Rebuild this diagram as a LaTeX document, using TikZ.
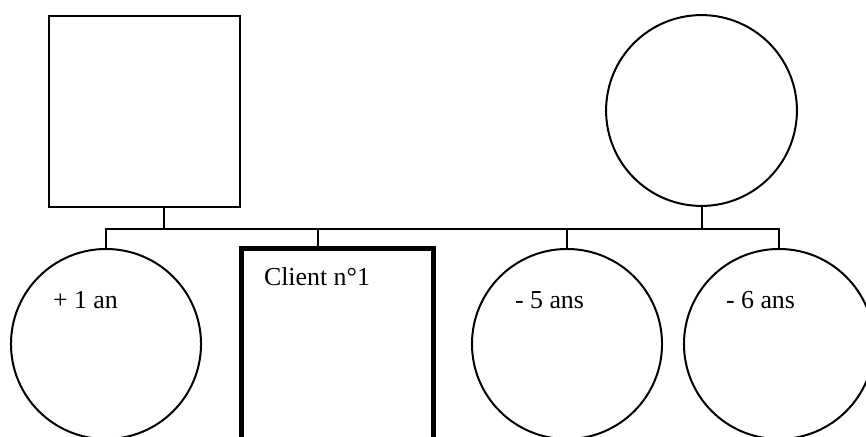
\documentclass[tikz,border=0pt]{standalone}
\usepackage{fontspec}
\setmainfont{Liberation Serif}
\usepackage{tikz}
\usetikzlibrary{shapes,positioning,calc}

\begin{document}
\begin{tikzpicture}[x=0.025cm, y=-0.025cm, line width=0.05cm,
    male/.style={draw, rectangle, minimum size=4.77cm},
    female/.style={draw, circle, minimum size=4.75cm, inner sep=0pt},
    patient/.style={draw, rectangle, line width=0.125cm, minimum width=4.81cm, minimum height=4.8cm},
    age/.style={anchor=base west, inner sep=0pt, font=\fontsize{18.4}{22}\selectfont}]
    \clip (0,0) rectangle (866,436);

    % Parents
    \node[male] (father) at (144.75,111.25) {};
    \node[female, minimum size=4.77cm] (mother) at (701.5,110.5) {};

    % Children
    \node[female] (kid1) at (106,344) {};
    \node[patient] (client) at (337.25,344.5) {};
    \node[female] (kid3) at (567,344) {};
    \node[female] (kid4) at (779,344) {};

    % Labels
    \node[age] (lkid1) at (52,308) {+ 1 an};
    \node[age] (lclient) at (263,285) {Client n°1};
    \node[age] (lkid3) at (514,308) {- 5 ans};
    \node[age] (lkid4) at (725,308) {- 6 ans};

    % Family lines
    \coordinate (fjoin) at (164,229);
    \coordinate (cjoin) at (318,229);
    \draw (father.south -| fjoin) -- (fjoin);
    \draw (mother.south) -- (mother.south |- fjoin);
    \draw (kid1.north) |- (kid4.north |- fjoin) -- (kid4.north);
    \draw (kid3.north) -- (kid3.north |- fjoin);
    \draw (client.north -| cjoin) -- (cjoin);
\end{tikzpicture}
\end{document}
